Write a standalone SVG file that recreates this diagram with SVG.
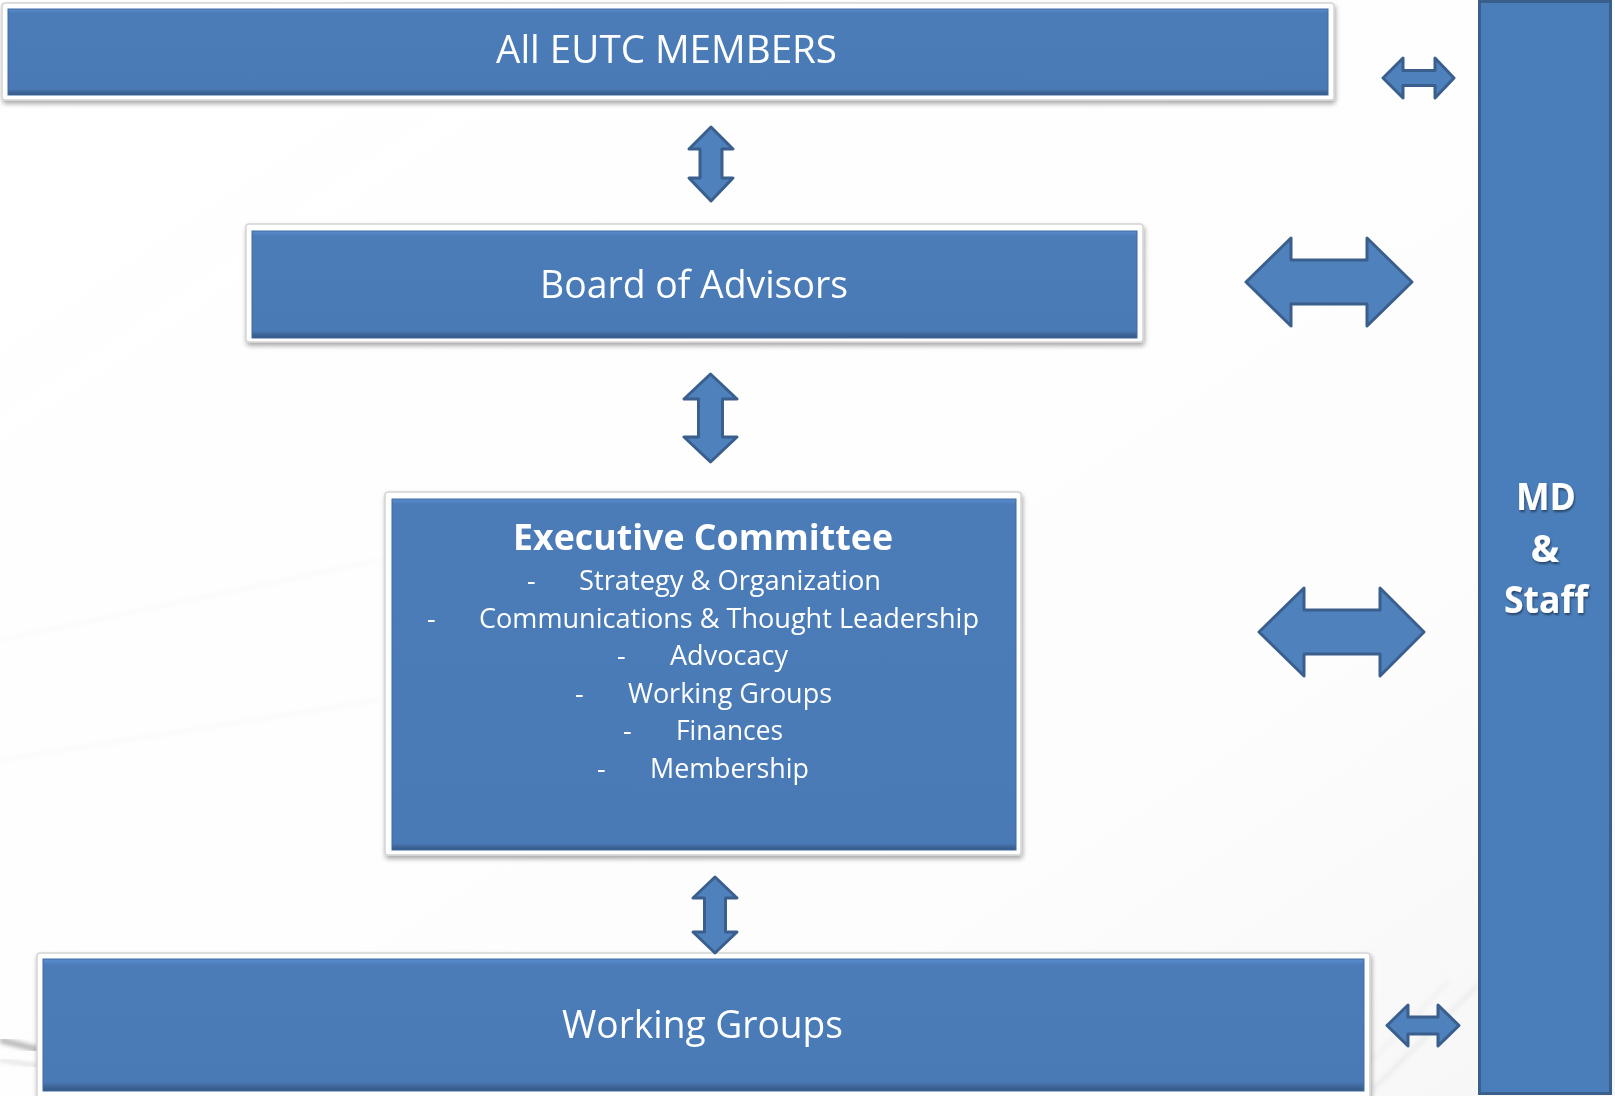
<svg xmlns="http://www.w3.org/2000/svg" width="1615" height="1096" viewBox="0 0 1615 1096">
<defs>
  <linearGradient id="bevel" x1="0" y1="0" x2="0" y2="1">
    <stop offset="0" stop-color="#5a8dcd"/>
    <stop offset="0.05" stop-color="#4b7cb8"/>
    <stop offset="0.93" stop-color="#4a7ab6"/>
    <stop offset="1" stop-color="#34557f"/>
  </linearGradient>
  <linearGradient id="bevelTall" x1="0" y1="0" x2="0" y2="1">
    <stop offset="0" stop-color="#5a8dcd"/>
    <stop offset="0.015" stop-color="#4b7cb8"/>
    <stop offset="0.98" stop-color="#4a7ab6"/>
    <stop offset="1" stop-color="#34557f"/>
  </linearGradient>
  <linearGradient id="bg" x1="0" y1="0" x2="1" y2="1">
    <stop offset="0" stop-color="#ffffff"/>
    <stop offset="0.7" stop-color="#fdfdfd"/>
    <stop offset="1" stop-color="#f6f6f6"/>
  </linearGradient>
  <filter id="shadow" x="-5%" y="-20%" width="110%" height="140%">
    <feGaussianBlur in="SourceAlpha" stdDeviation="2.5"/>
    <feOffset dx="1" dy="3" result="b"/>
    <feComponentTransfer><feFuncA type="linear" slope="0.35"/></feComponentTransfer>
    <feMerge><feMergeNode/><feMergeNode in="SourceGraphic"/></feMerge>
  </filter>
  <filter id="tshadow" x="-10%" y="-20%" width="120%" height="140%">
    <feGaussianBlur in="SourceAlpha" stdDeviation="1"/>
    <feOffset dx="1" dy="1.5"/>
    <feComponentTransfer><feFuncA type="linear" slope="0.45"/></feComponentTransfer>
    <feMerge><feMergeNode/><feMergeNode in="SourceGraphic"/></feMerge>
  </filter>
  <filter id="soft"><feGaussianBlur stdDeviation="2"/></filter>
</defs>
<style>
  .frame { fill: #ffffff; stroke: #d4d4d4; stroke-width: 1.5; }
  .blue { fill: url(#bevel); stroke: #3f6ba3; stroke-width: 1; }
  .blueTall { fill: url(#bevelTall); stroke: #3f6ba3; stroke-width: 1; }
  .lbl { fill: #ffffff; font-family: "Open Sans", "Noto Sans", "Liberation Sans", sans-serif; }
  .big { font-size: 38px; }
  .item { font-size: 27px; }
  .bold { font-weight: bold; }
  .arrow { fill: #4f81bd; stroke: #3a5f8c; stroke-width: 3; stroke-linejoin: round; }
</style>

<rect x="0" y="0" width="1615" height="1096" fill="url(#bg)"/>
<g id="background" opacity="0.6">
  <path d="M0,1040 L40,1050" stroke="#8a8a8a" stroke-width="6" filter="url(#soft)"/>
  <path d="M0,1060 L40,1066" stroke="#c8c8c8" stroke-width="3" filter="url(#soft)"/>
  <path d="M1372,1090 L1478,985" stroke="#dddddd" stroke-width="3" filter="url(#soft)"/>
  <path d="M1372,1060 L1450,980" stroke="#e6e6e6" stroke-width="2" filter="url(#soft)"/>
  <path d="M0,640 L380,560" stroke="#f3f3f3" stroke-width="2" filter="url(#soft)"/>
  <path d="M0,760 L380,700" stroke="#f3f3f3" stroke-width="2" filter="url(#soft)"/>
</g>

<g id="node-all-members" filter="url(#shadow)">
  <rect class="frame" x="2" y="3" width="1332" height="97" rx="3"/>
  <rect class="blue" x="8" y="9" width="1320" height="86"/>
  <text class="lbl big" x="666.5" y="63" text-anchor="middle" textLength="341" lengthAdjust="spacingAndGlyphs">All EUTC MEMBERS</text>
</g>

<g id="node-board" filter="url(#shadow)">
  <rect class="frame" x="246" y="224" width="897" height="118" rx="3"/>
  <rect class="blue" x="252" y="231" width="885" height="107"/>
  <text class="lbl big" x="694" y="298" text-anchor="middle" textLength="308" lengthAdjust="spacingAndGlyphs">Board of Advisors</text>
</g>

<g id="node-executive" filter="url(#shadow)">
  <rect class="frame" x="385" y="492" width="636" height="363" rx="3"/>
  <rect class="blueTall" x="392" y="499" width="624" height="351"/>
  <text class="lbl bold" font-size="35" x="703" y="550" text-anchor="middle" textLength="380" lengthAdjust="spacingAndGlyphs">Executive Committee</text>
  <g class="lbl item">
    <text x="527" y="590">-</text>
    <text x="579" y="590" textLength="302" lengthAdjust="spacingAndGlyphs">Strategy &amp; Organization</text>
    <text x="427" y="628">-</text>
    <text x="479" y="628" textLength="500" lengthAdjust="spacingAndGlyphs">Communications &amp; Thought Leadership</text>
    <text x="617" y="665">-</text>
    <text x="670" y="665" textLength="118" lengthAdjust="spacingAndGlyphs">Advocacy</text>
    <text x="575" y="703">-</text>
    <text x="628" y="703" textLength="204" lengthAdjust="spacingAndGlyphs">Working Groups</text>
    <text x="623" y="740">-</text>
    <text x="676" y="740" textLength="107" lengthAdjust="spacingAndGlyphs">Finances</text>
    <text x="597" y="778">-</text>
    <text x="650" y="778" textLength="159" lengthAdjust="spacingAndGlyphs">Membership</text>
  </g>
</g>

<g id="node-working-groups" filter="url(#shadow)">
  <rect class="frame" x="37" y="953" width="1333" height="145" rx="3"/>
  <rect class="blue" x="43" y="959" width="1321" height="132"/>
  <text class="lbl big" x="702.5" y="1038" text-anchor="middle" textLength="281" lengthAdjust="spacingAndGlyphs">Working Groups</text>
</g>

<g id="node-md-staff">
  <rect x="1479.5" y="1.5" width="131" height="1092" fill="#4a7ebb" stroke="#3a5f8c" stroke-width="3"/>
  <g class="lbl bold" font-size="38" text-anchor="middle" filter="url(#tshadow)">
    <text x="1546" y="510" textLength="60" lengthAdjust="spacingAndGlyphs">MD</text>
    <text x="1545" y="562">&amp;</text>
    <text x="1546" y="613" textLength="84" lengthAdjust="spacingAndGlyphs">Staff</text>
  </g>
</g>

<g id="connectors">
  <path class="arrow" d="M1383,78 L1403,58 L1403,70.5 L1435,70.5 L1435,58 L1454,78 L1435,98 L1435,85.5 L1403,85.5 L1403,98 Z"/>
  <path class="arrow" d="M1246,282 L1291,238 L1291,260 L1367,260 L1367,238 L1412,282 L1367,326 L1367,304 L1291,304 L1291,326 Z"/>
  <path class="arrow" d="M1259,632 L1304,588 L1304,610 L1380,610 L1380,588 L1424,632 L1380,676 L1380,654 L1304,654 L1304,676 Z"/>
  <path class="arrow" d="M1387,1025.5 L1408,1005 L1408,1017 L1438,1017 L1438,1005 L1459,1025.5 L1438,1046 L1438,1034 L1408,1034 L1408,1046 Z"/>
  <path class="arrow" d="M711,127 L733,149 L722,149 L722,178 L733,178 L711,201 L689,178 L700,178 L700,149 L689,149 Z"/>
  <path class="arrow" d="M710.5,374 L737,399 L722.5,399 L722.5,437 L737,437 L710.5,462 L684,437 L698.5,437 L698.5,399 L684,399 Z"/>
  <path class="arrow" d="M715,877 L737,898 L725.5,898 L725.5,932 L737,932 L715,953 L693,932 L704.5,932 L704.5,898 L693,898 Z"/>
</g>
</svg>
